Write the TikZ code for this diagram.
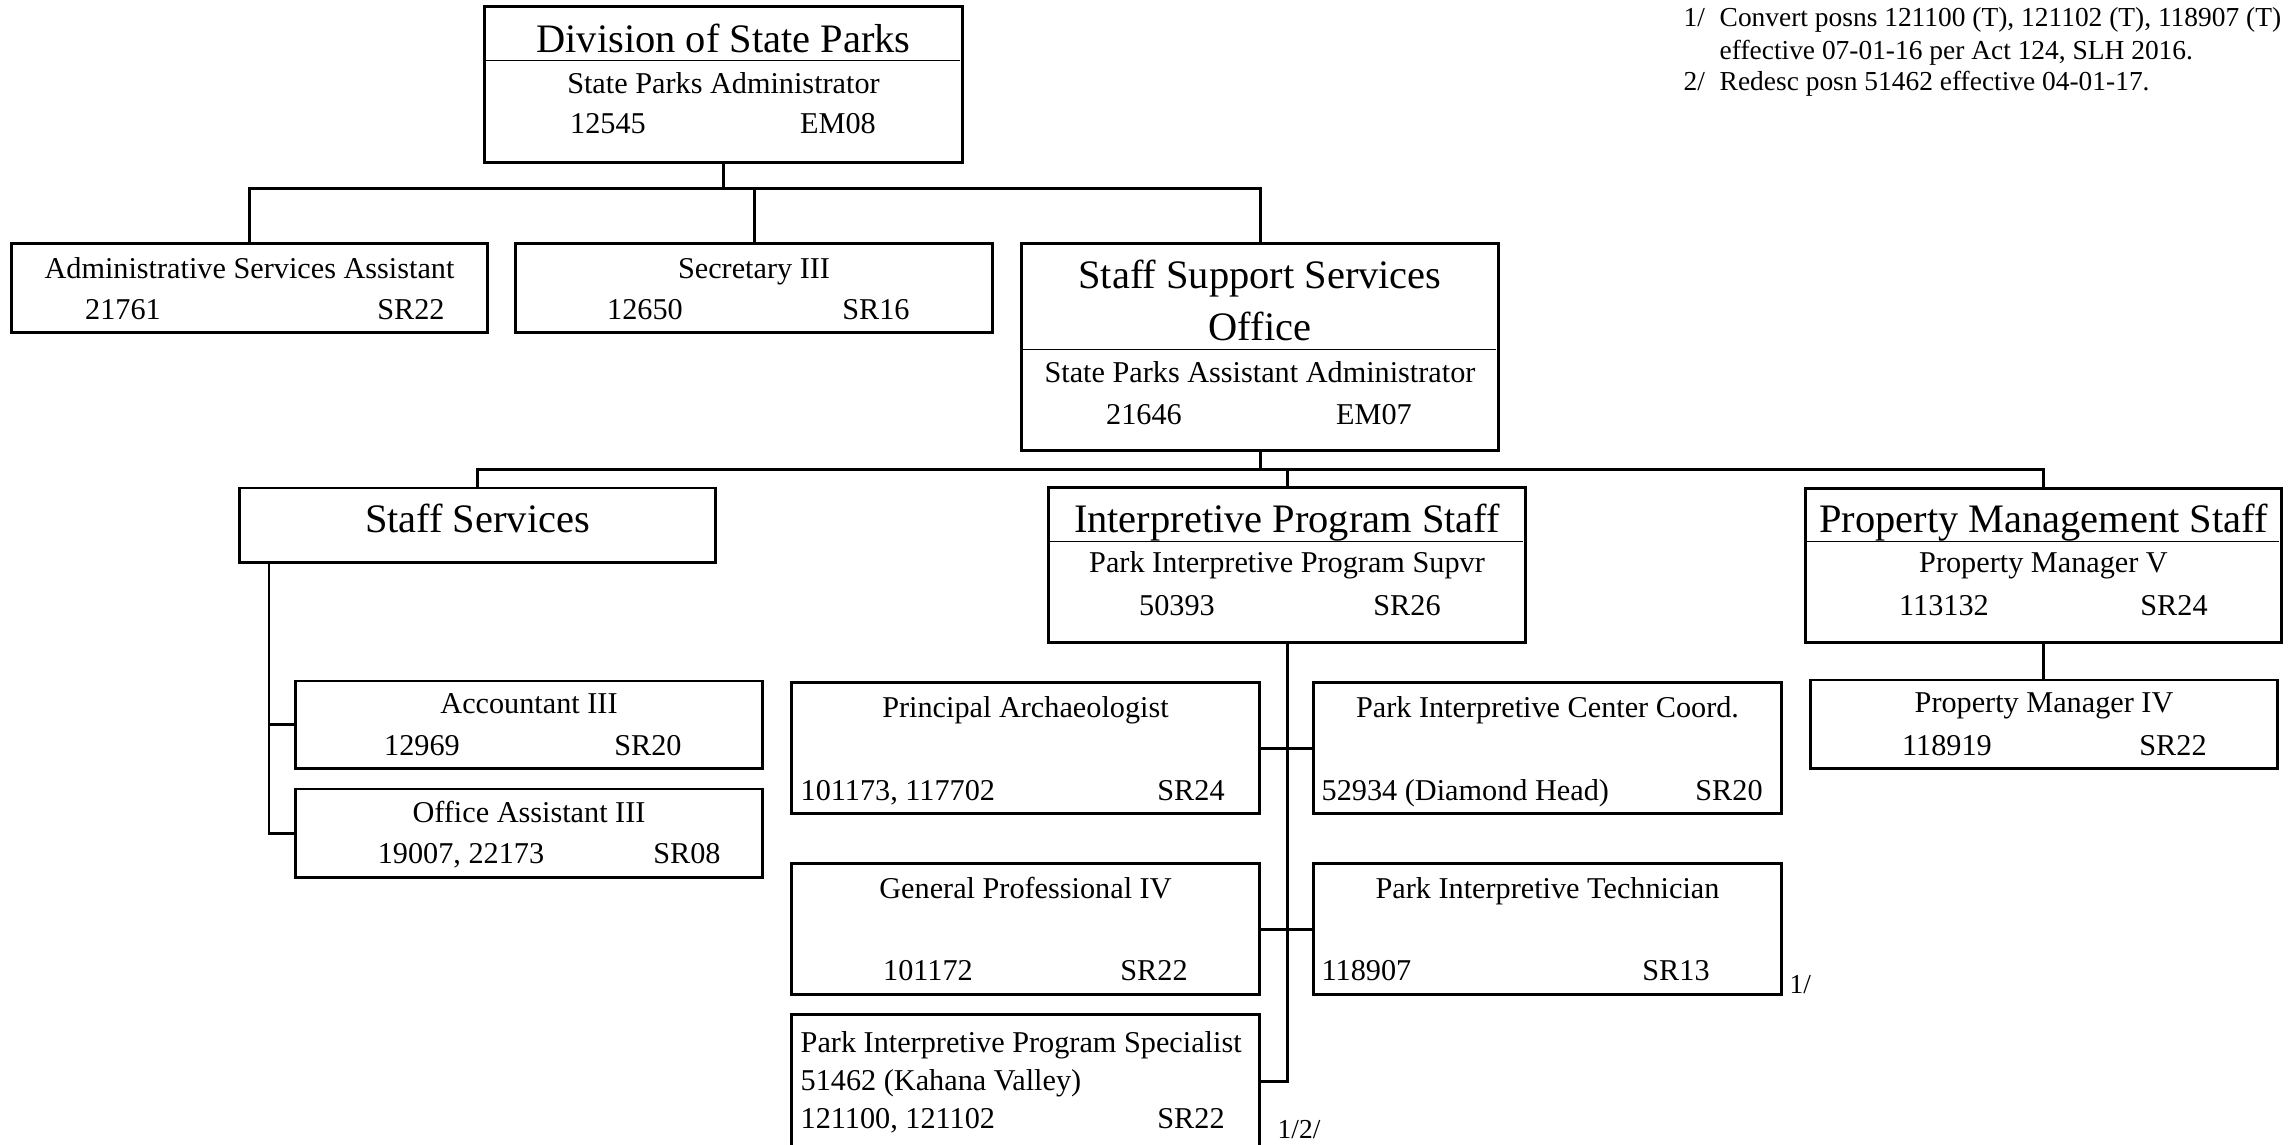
\documentclass[tikz,border=0pt]{standalone}
\usepackage{fontspec}
\setmainfont{Liberation Serif}
\newcommand\titlesize{\fontsize{11.5}{13}\selectfont}
\newcommand\possize{\fontsize{8.6}{10}\selectfont}
\newcommand\notesize{\fontsize{7.8}{9}\selectfont}
\tikzset{
  unitbox/.style={draw, line width=0.85pt, inner sep=0pt, rectangle},
  headtxt/.style={font=\titlesize, anchor=base, inner sep=0pt},
  posntxt/.style={font=\possize, anchor=base, inner sep=0pt},
  posnleft/.style={posntxt, anchor=base west},
  notetxt/.style={font=\notesize, anchor=base west, inner sep=0pt},
  link/.style={line width=0.85pt},
  divider/.style={line width=0.3pt}
}
\begin{document}
\begin{tikzpicture}[x=0.01cm, y=-0.01cm]
        \useasboundingbox (0,0) rectangle (2293,1144);
        \clip (0,0) rectangle (2293,1144);
        % boxes
        \node[unitbox, minimum width=4.77cm, minimum height=1.55cm] (div) at (723.5,84.5) {};
        \node[unitbox, minimum width=4.75cm, minimum height=0.88cm] (adm) at (249.5,288) {};
        \node[unitbox, minimum width=4.76cm, minimum height=0.88cm] (sec) at (754,288) {};
        \node[unitbox, minimum width=4.76cm, minimum height=2.06cm] (ssso) at (1260,347) {};
        \node[unitbox, minimum width=4.75cm, minimum height=0.74cm] (stsv) at (477.5,525) {};
        \node[unitbox, minimum width=4.76cm, minimum height=1.54cm] (intp) at (1287,565) {};
        \node[unitbox, minimum width=4.75cm, minimum height=1.53cm] (prop) at (2043.5,565.5) {};
        \node[unitbox, minimum width=4.67cm, minimum height=0.88cm] (pm4) at (2044,724) {};
        \node[unitbox, minimum width=4.66cm, minimum height=0.87cm] (acct) at (529,724.5) {};
        \node[unitbox, minimum width=4.66cm, minimum height=0.88cm] (offa) at (529,833) {};
        \node[unitbox, minimum width=4.67cm, minimum height=1.30cm] (parc) at (1025.5,748) {};
        \node[unitbox, minimum width=4.67cm, minimum height=1.30cm] (picc) at (1547.5,748) {};
        \node[unitbox, minimum width=4.67cm, minimum height=1.30cm] (genp) at (1025.5,929) {};
        \node[unitbox, minimum width=4.67cm, minimum height=1.30cm] (pitc) at (1547.5,929) {};
        \node[unitbox, minimum width=4.67cm, minimum height=1.32cm] (pips) at (1025.5,1081) {};
        \draw[divider] (div.north west) ++(0,55) -- ++(477,0);
        \draw[divider] (ssso.north west) ++(0,107) -- ++(476,0);
        \draw[divider] (intp.north west) ++(0,55) -- ++(476,0);
        \draw[divider] (prop.north west) ++(0,54) -- ++(475,0);
        % texts
        \node[headtxt] (divT) at (723.5,52) {Division of State Parks};
        \node[posntxt] (divP) at (723.5,93) {State Parks Administrator};
        \node[posntxt] (divN) at (608,133) {12545};
        \node[posntxt] (divG) at (838,133) {EM08};
        \node[posntxt] (admP) at (249.5,278) {Administrative Services Assistant};
        \node[posntxt] (admN) at (123,319) {21761};
        \node[posntxt] (admG) at (411,319) {SR22};
        \node[posntxt] (secP) at (754,278) {Secretary III};
        \node[posntxt] (secN) at (645,319) {12650};
        \node[posntxt] (secG) at (876,319) {SR16};
        \node[headtxt] (sssoT) at (1260,288) {Staff Support Services};
        \node[headtxt] (sssoU) at (1260,340) {Office};
        \node[posntxt] (sssoP) at (1260,382) {State Parks Assistant Administrator};
        \node[posntxt] (sssoN) at (1144,424) {21646};
        \node[posntxt] (sssoG) at (1374,424) {EM07};
        \node[headtxt] (stsvT) at (477.5,532) {Staff Services};
        \node[headtxt] (intpT) at (1287,532) {Interpretive Program Staff};
        \node[posntxt] (intpP) at (1287,572) {Park Interpretive Program Supvr};
        \node[posntxt] (intpN) at (1177,615) {50393};
        \node[posntxt] (intpG) at (1407,615) {SR26};
        \node[headtxt] (propT) at (2043.5,532) {Property Management Staff};
        \node[posntxt] (propP) at (2043.5,572) {Property Manager V};
        \node[posntxt] (propN) at (1944,615) {113132};
        \node[posntxt] (propG) at (2174,615) {SR24};
        \node[posntxt] (pm4P) at (2044,712) {Property Manager IV};
        \node[posntxt] (pm4N) at (1947,755) {118919};
        \node[posntxt] (pm4G) at (2173,755) {SR22};
        \node[posntxt] (acctP) at (529,713) {Accountant III};
        \node[posntxt] (acctN) at (422,755) {12969};
        \node[posntxt] (acctG) at (648,755) {SR20};
        \node[posntxt] (offaP) at (529,822) {Office Assistant III};
        \node[posntxt] (offaN) at (461,863) {19007, 22173};
        \node[posntxt] (offaG) at (687,863) {SR08};
        \node[posntxt] (parcP) at (1025.5,717) {Principal Archaeologist};
        \node[posnleft] (parcN) at (800,800) {101173, 117702};
        \node[posntxt] (parcG) at (1191,800) {SR24};
        \node[posntxt] (piccP) at (1547.5,717) {Park Interpretive Center Coord.};
        \node[posnleft] (piccN) at (1321,800) {52934 (Diamond Head)};
        \node[posntxt] (piccG) at (1729,800) {SR20};
        \node[posntxt] (genpP) at (1025.5,898) {General Professional IV};
        \node[posntxt] (genpN) at (928,980) {101172};
        \node[posntxt] (genpG) at (1154,980) {SR22};
        \node[posntxt] (pitcP) at (1547.5,898) {Park Interpretive Technician};
        \node[posnleft] (pitcN) at (1321,980) {118907};
        \node[posntxt] (pitcG) at (1676,980) {SR13};
        \node[posnleft] (pipsP) at (800,1052) {Park Interpretive Program Specialist};
        \node[posnleft] (pipsL) at (800,1090) {51462 (Kahana Valley)};
        \node[posnleft] (pipsN) at (800,1128) {121100, 121102};
        \node[posntxt] (pipsG) at (1191,1128) {SR22};
        \node[notetxt] (pitcF) at (1789,993) {1/};
        \node[notetxt] (pipsF) at (1277,1138) {1/2/};
        % footnotes
        \node[notetxt] (f1) at (1683,26) {1/};
        \node[notetxt] (f1a) at (1719,26) {Convert posns 121100 (T), 121102 (T), 118907 (T)};
        \node[notetxt] (f1b) at (1719,59) {effective 07-01-16 per Act 124, SLH 2016.};
        \node[notetxt] (f2) at (1683,90) {2/};
        \node[notetxt] (f2a) at (1719,90) {Redesc posn 51462 effective 04-01-17.};
        % connectors
        \coordinate (j1) at (723.5,188);
        \coordinate (j2) at (1260,469);
        \coordinate (s1) at (269,562);
        \draw[link] (div.south) -- (j1);
        \draw[link] (j1) -| (adm.north);
        \draw[link] (j1) -| (sec.north);
        \draw[link] (j1) -| (ssso.north);
        \draw[link] (ssso.south) -- (j2);
        \draw[link] (j2) -| (stsv.north);
        \draw[link] (j2) -| (intp.north);
        \draw[link] (j2) -| (prop.north);
        \draw[link] (s1) |- (acct.west);
        \draw[link] (s1) |- (offa.west);
        \draw[link] (intp.south) |- (pips.east);
        \draw[link] (parc.east) -- (picc.west);
        \draw[link] (genp.east) -- (pitc.west);
        \draw[link] (prop.south) -- (prop.south |- pm4.north);
    \end{tikzpicture}
\end{document}
